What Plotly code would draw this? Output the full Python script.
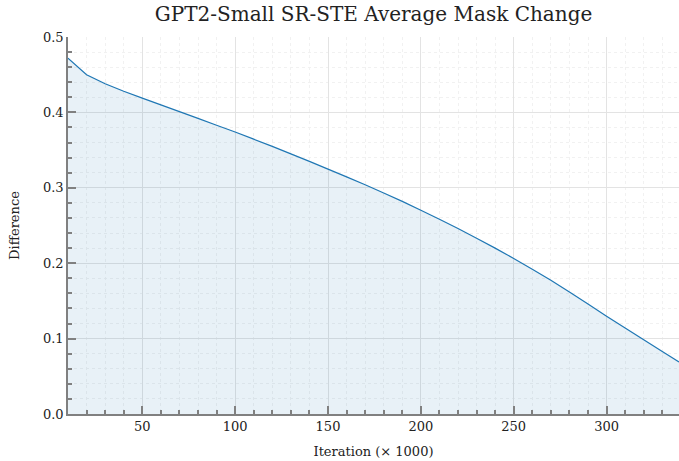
import plotly.graph_objects as go

# iteration (x1000) and average mask difference
iterations = [10, 20, 30, 40, 50, 60, 70, 80, 90, 100, 110, 120, 130, 140, 150,
              160, 170, 180, 190, 200, 210, 220, 230, 240, 250, 260, 270, 280,
              290, 300, 310, 320, 330, 339]
difference = [0.472, 0.450, 0.438, 0.428, 0.419, 0.410, 0.401, 0.392, 0.383, 0.374,
              0.3645, 0.355, 0.345, 0.335, 0.3248, 0.3145, 0.304, 0.2932, 0.282, 0.2703,
              0.2583, 0.246, 0.2332, 0.220, 0.2063, 0.192, 0.1773, 0.1618, 0.1458, 0.1298,
              0.114, 0.0985, 0.083, 0.069]

font = "DejaVu Serif"
axis_col = "#808080"

fig = go.Figure()
fig.add_trace(go.Scatter(x=iterations, y=difference, mode='lines', fill='tozeroy',
                         line=dict(color='#1f77b4', width=1.2, simplify=False),
                         fillcolor='rgba(31,119,180,0.1)', showlegend=False))

fig.update_layout(
    width=679, height=461,
    margin=dict(l=68, r=0, t=37, b=47),
    paper_bgcolor='white', plot_bgcolor='white',
    font=dict(family=font, size=13, color='#222222'),
    title=dict(text='GPT2-Small SR-STE Average Mask Change', xref='paper', x=0.5,
               xanchor='center', y=0.985, yanchor='top',
               font=dict(family=font, size=20, color='#222222')),
)
fig.update_xaxes(
    range=[10, 339], tick0=0, dtick=50, ticks='inside', ticklen=8, tickwidth=1.5,
    tickcolor=axis_col, showline=True, linecolor=axis_col, linewidth=1.5,
    showgrid=True, gridcolor='#e3e3e3', gridwidth=1, zeroline=False, automargin=False,
    minor=dict(dtick=10, ticks='inside', ticklen=4, tickcolor=axis_col,
               showgrid=True, gridcolor='#f1f1f1', griddash='dot'),
    title=dict(text='Iteration (× 1000)', font=dict(size=13), standoff=14),
)
fig.update_yaxes(
    range=[0, 0.5], dtick=0.1, tickformat='.1f', ticks='inside', ticklen=8, tickwidth=1.5,
    tickcolor=axis_col, showline=True, linecolor=axis_col, linewidth=1.5,
    showgrid=True, gridcolor='#e3e3e3', gridwidth=1, zeroline=False, automargin=False,
    minor=dict(dtick=0.02, ticks='inside', ticklen=4, tickcolor=axis_col,
               showgrid=True, gridcolor='#f1f1f1', griddash='dot'),
    title=dict(text='Difference', font=dict(size=13), standoff=20),
)

fig.write_html("out.html", config={'displayModeBar': False},
               post_script="document.body.style.margin='0';")
